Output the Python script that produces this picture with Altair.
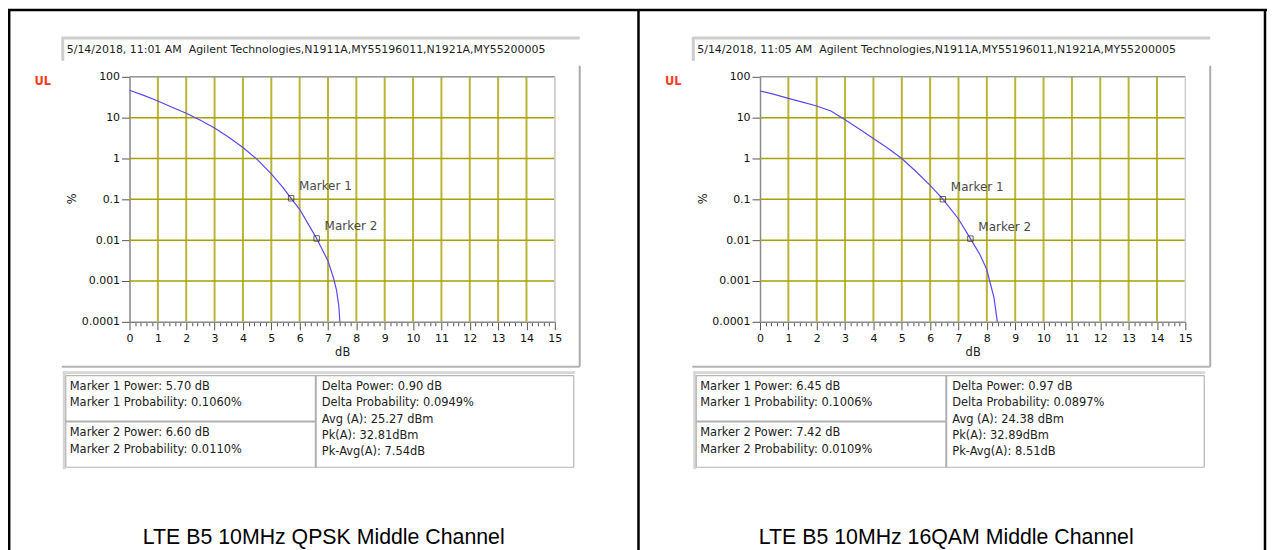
import altair as alt
import pandas as pd

# ---------------- data ----------------
QPSK_DB = [0, 0.5, 1.0, 1.5, 2.0, 2.5, 3.0, 3.5, 4.0, 4.5, 5.0, 5.4, 5.7, 6.0, 6.3, 6.6, 6.8, 7.0, 7.2, 7.3, 7.38, 7.42]
QPSK_PCT = [47, 35, 25.6, 18, 12.8, 8.6, 5.6, 3.3, 1.85, 0.95, 0.42, 0.2, 0.106, 0.057, 0.025, 0.011, 0.0058, 0.0031, 0.00115, 0.0006, 0.00025, 0.0001]
QAM_DB = [0, 0.5, 1.0, 1.5, 2.0, 2.5, 3.0, 3.5, 4.0, 4.5, 5.0, 5.5, 6.0, 6.45, 7.0, 7.42, 7.75, 8.0, 8.1, 8.25, 8.37]
QAM_PCT = [45, 37, 29.6, 24, 19.3, 14.5, 8.9, 5.3, 3.1, 1.8, 1.0, 0.48, 0.22, 0.1006, 0.033, 0.0109, 0.0045, 0.0019, 0.001, 0.0004, 0.0001]

MARKER_NAMES = ["Marker 1", "Marker 2"]
QPSK_MARKER_DB = [5.70, 6.60]
QPSK_MARKER_PCT = [0.1060, 0.0110]
QAM_MARKER_DB = [6.45, 7.42]
QAM_MARKER_PCT = [0.1006, 0.0109]

X_TICKS = [i / 5 for i in range(76)]
X_GRID = list(range(1, 15))
Y_TICKS = [0.0001, 0.001, 0.01, 0.1, 1, 10, 100]
Y_TICK_LABELS = ["0.0001", "0.001", "0.01", "0.1", "1", "10", "100"]
Y_GRID = [0.001, 0.01, 0.1, 1, 10]

HEADERS = [
    "5/14/2018, 11:01 AM\u00a0 Agilent Technologies,N1911A,MY55196011,N1921A,MY55200005",
    "5/14/2018, 11:05 AM\u00a0 Agilent Technologies,N1911A,MY55196011,N1921A,MY55200005",
]
TABLE_MARKERS = [
    [["Marker 1 Power: 5.70 dB", "Marker 1 Probability: 0.1060%"],
     ["Marker 2 Power: 6.60 dB", "Marker 2 Probability: 0.0110%"]],
    [["Marker 1 Power: 6.45 dB", "Marker 1 Probability: 0.1006%"],
     ["Marker 2 Power: 7.42 dB", "Marker 2 Probability: 0.0109%"]],
]
TABLE_STATS = [
    ["Delta Power: 0.90 dB", "Delta Probability: 0.0949%", "Avg (A): 25.27 dBm", "Pk(A): 32.81dBm", "Pk-Avg(A): 7.54dB"],
    ["Delta Power: 0.97 dB", "Delta Probability: 0.0897%", "Avg (A): 24.38 dBm", "Pk(A): 32.89dBm", "Pk-Avg(A): 8.51dB"],
]
CAPTIONS = ["LTE B5 10MHz QPSK Middle Channel", "LTE B5 10MHz 16QAM Middle Channel"]

# ---------------- layout / style ----------------
UI = "DejaVu Sans"
OX, OY = 130, 76          # page position of the left plot's top-left corner
PW, PH = 427, 246         # plot area
SHIFT = 633               # horizontal shift of the right panel
SVG_W, SVG_H = 1264, 542
LINE_COLOR = "#5a48f2"
VGRID = "#bbb535"
HGRID = "#a6a000"
ONE = pd.DataFrame({"k": [0]})

IS_INT = "abs(datum.value - round(datum.value)) < 0.001"
y_expr = "''"
for v, lab in reversed(list(zip(Y_TICKS, Y_TICK_LABELS))):
    y_expr = f"datum.value < {v * 1.5} ? '{lab}' : " + y_expr if y_expr != "''" else f"'{lab}'"


def hline(x1, x2, y, color, w):
    return alt.Chart(ONE).mark_rule(color=color, strokeWidth=w).encode(
        x=alt.value(x1 - OX), x2=alt.value(x2 - OX), y=alt.value(y - OY))


def vline(x, y1, y2, color, w):
    return alt.Chart(ONE).mark_rule(color=color, strokeWidth=w).encode(
        x=alt.value(x - OX), y=alt.value(y1 - OY), y2=alt.value(y2 - OY))


def label(x, y, text, size, color, font=UI, align="left", baseline="middle", weight="normal"):
    return alt.Chart(ONE).mark_text(text=text, align=align, baseline=baseline, font=font,
                                    fontSize=size, color=color, fontWeight=weight).encode(
        x=alt.value(x - OX), y=alt.value(y - OY))


def plot(db, pct, mdb, mpct, i):
    x0 = i * SHIFT
    xs = alt.Scale(domain=[0, 15], range=[x0, x0 + PW], nice=False, zero=False)
    ys = alt.Scale(type="log", domain=[0.0001, 100], nice=False)
    xaxis = alt.Axis(orient="bottom", values=X_TICKS, grid=False,
                     labelExpr=f"{IS_INT} ? format(datum.value, 'd') : ''",
                     tickSize={"condition": {"test": IS_INT, "value": 8}, "value": 4},
                     tickColor="#555555", domainColor="#8a8a8a", domainWidth=1.5,
                     labelFont=UI, labelFontSize=11, labelColor="#111111", labelPadding=3,
                     labelFlush=False, labelOverlap=False,
                     title="dB", titleFont=UI, titleFontSize=11.5, titleFontWeight="normal",
                     titleColor="#222222", titleY=31, titleBaseline="middle")
    yaxis = alt.Axis(orient="left", offset=-x0, values=Y_TICKS, grid=False, labelExpr=y_expr,
                     tickSize=8, tickColor="#555555", domainColor="#8a8a8a", domainWidth=1.5,
                     labelFont=UI, labelFontSize=11, labelColor="#111111", labelPadding=2,
                     labelOverlap=False, labelFlush=False,
                     title="%", titleFont=UI, titleFontSize=11.5, titleFontWeight="normal",
                     titleColor="#222222", titleX=-57, titleY=122, titleAlign="center",
                     titleBaseline="middle")

    vgrid = alt.Chart(pd.DataFrame({"g": X_GRID})).mark_rule(color=VGRID, strokeWidth=2).encode(
        x=alt.X("g:Q", scale=xs, axis=xaxis),
        y=alt.Y(datum=0.0001, type="quantitative", scale=ys, axis=yaxis),
        y2=alt.Y2(datum=100))
    hgrid = alt.Chart(pd.DataFrame({"g": Y_GRID})).mark_rule(color=HGRID, strokeWidth=1.5).encode(
        y=alt.Y("g:Q", scale=ys, axis=yaxis),
        x=alt.X(datum=0, type="quantitative", scale=xs, axis=xaxis),
        x2=alt.X2(datum=15))
    top = alt.Chart(ONE).mark_rule(color="#9a9a9a", strokeWidth=1.5).encode(
        y=alt.Y(datum=100, type="quantitative", scale=ys, axis=yaxis),
        x=alt.X(datum=0, type="quantitative", scale=xs, axis=xaxis),
        x2=alt.X2(datum=15))
    right = alt.Chart(ONE).mark_rule(color="#cccccc", strokeWidth=1.5).encode(
        x=alt.X(datum=15, type="quantitative", scale=xs, axis=xaxis),
        y=alt.Y(datum=0.0001, type="quantitative", scale=ys, axis=yaxis),
        y2=alt.Y2(datum=100))
    curve = alt.Chart(pd.DataFrame({"db": db, "pct": pct})).mark_line(
        color=LINE_COLOR, strokeWidth=1.2).encode(
        x=alt.X("db:Q", scale=xs, axis=xaxis), y=alt.Y("pct:Q", scale=ys, axis=yaxis))
    mdf = pd.DataFrame({"db": mdb, "pct": mpct, "name": MARKER_NAMES})
    pts = alt.Chart(mdf).mark_point(shape="square", filled=False, size=30, color="#222222",
                                    strokeWidth=1).encode(
        x=alt.X("db:Q", scale=xs, axis=xaxis), y=alt.Y("pct:Q", scale=ys, axis=yaxis))
    names = alt.Chart(mdf).mark_text(align="left", baseline="middle", dx=8, dy=-12, font=UI,
                                     fontSize=12, color="#4a4a4a").encode(
        x=alt.X("db:Q", scale=xs, axis=xaxis), y=alt.Y("pct:Q", scale=ys, axis=yaxis),
        text="name:N")
    return alt.layer(vgrid, hgrid, top, right, curve, pts, names)


def decorations(i):
    s = i * SHIFT
    d = []
    # header box
    d.append(hline(62 + s, 582 + s, 37, "#cdcdcd", 3))
    d.append(vline(63 + s, 36, 60, "#cdcdcd", 3))
    d.append(label(67 + s, 49, HEADERS[i], 11, "#1e1e1e"))
    # chart frame
    d.append(vline(582 + s, 65, 367, "#ababab", 2))
    d.append(hline(62 + s, 582 + s, 367, "#b4b4b4", 2))
    d.append(label(43 + s, 81, "UL", 11.5, "#ff3b1f", align="center", weight="bold"))
    # table
    d.append(hline(63 + s, 577 + s, 373, "#d6d6d6", 3))
    d.append(vline(64.5 + s, 372, 470, "#d6d6d6", 3))
    d.append(hline(66 + s, 576 + s, 376, "#b4b4b4", 1.2))
    d.append(hline(66 + s, 576 + s, 468, "#b4b4b4", 1.2))
    d.append(vline(66 + s, 376, 468, "#b4b4b4", 1.2))
    d.append(vline(576 + s, 376, 468, "#b4b4b4", 1.2))
    d.append(vline(317 + s, 376, 468, "#b0b0b0", 2))
    d.append(hline(66 + s, 317 + s, 422, "#b0b0b0", 2))
    for j, y in enumerate([387, 404]):
        d.append(label(70 + s, y, TABLE_MARKERS[i][0][j], 11.5, "#222222"))
    for j, y in enumerate([434, 451]):
        d.append(label(70 + s, y, TABLE_MARKERS[i][1][j], 11.5, "#222222"))
    for j, y in enumerate([387, 404, 421, 437, 453]):
        d.append(label(323 + s, y, TABLE_STATS[i][j], 11.5, "#222222"))
    # caption
    cx = [325, 950][i]
    d.append(label(cx, 545, CAPTIONS[i], 21.4, "#000000", font="Liberation Sans",
                   align="center", baseline="alphabetic"))
    return d


frame = [
    hline(8, 1272, 9, "#000000", 2.5),
    vline(9.2, 8, 552, "#000000", 2.5),
    vline(641, 8, 552, "#000000", 2.5),
    vline(1270, 8, 552, "#000000", 2.5),
]

layers = [plot(QPSK_DB, QPSK_PCT, QPSK_MARKER_DB, QPSK_MARKER_PCT, 0),
          plot(QAM_DB, QAM_PCT, QAM_MARKER_DB, QAM_MARKER_PCT, 1)]
layers += decorations(0) + decorations(1) + frame

chart = alt.layer(*layers).resolve_scale(x="independent", y="independent").properties(
    width=PW, height=PH,
    padding={"left": OX - 8, "top": OY - 8, "right": SVG_W - (OX - 8) - PW,
             "bottom": SVG_H - (OY - 8) - PH},
    autosize=alt.AutoSizeParams(type="none"),
).configure_view(strokeWidth=0).configure(background="white")

chart.save("out.html", embed_options={"renderer": "svg", "actions": False})
